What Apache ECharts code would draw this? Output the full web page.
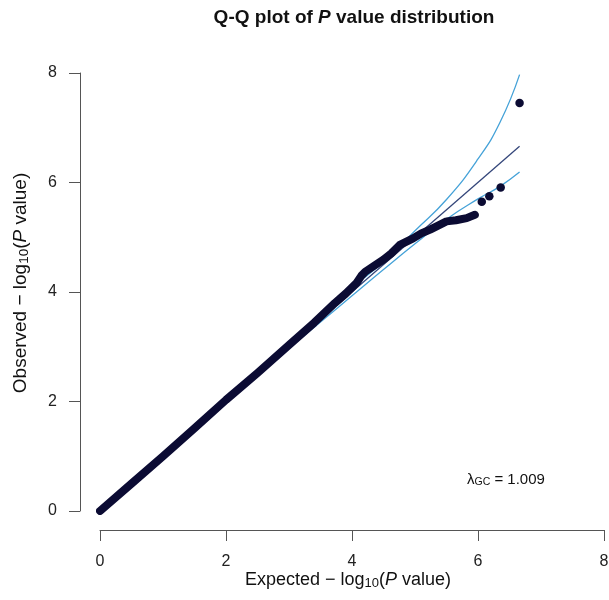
<!DOCTYPE html>
<html>
<head>
<meta charset="UTF-8">
<title>Q-Q plot</title>
<script src="https://cdn.jsdelivr.net/npm/echarts@6/dist/echarts.min.js"></script>
<style>
  body { margin: 0; background: #fff; }
  #chartmain { width: 609px; height: 600px; }
</style>
</head>
<body>
<div id="chartmain"></div>
<script>
// expected / observed -log10(P), main body of the Q-Q points
var expected = [0, 0.5, 1.0, 1.5, 2.0, 2.5, 3.0, 3.4, 3.73, 3.9, 4.07, 4.15, 4.21, 4.34, 4.5, 4.62, 4.76, 4.97, 5.1, 5.24, 5.5, 5.65, 5.82, 5.95];
var observed = [0, 0.5, 1.0, 1.51, 2.03, 2.52, 3.03, 3.44, 3.8, 3.97, 4.16, 4.3, 4.37, 4.47, 4.59, 4.7, 4.86, 4.98, 5.07, 5.14, 5.29, 5.31, 5.35, 5.41];
// the few separate points in the tail
var tailExpected = [6.06, 6.18, 6.36, 6.66];
var tailObserved = [5.65, 5.75, 5.91, 7.45];
// 90% confidence band
var bandX = [0, 1, 2, 3, 3.5, 4, 4.5, 5, 5.5, 6, 6.35, 6.66];
var bandUpper = [0, 1.0, 2.02, 3.04, 3.56, 4.08, 4.55, 5.12, 5.69, 6.43, 7.1, 7.97];
var bandLower = [0, 0.99, 1.98, 2.97, 3.45, 3.93, 4.41, 4.88, 5.33, 5.7, 5.93, 6.19];
// diagonal y = x
var diagX = [0, 6.66];
var axisTicks = [0, 2, 4, 6, 8];
var lambdaGC = '1.009';

function pairs(xs, ys) {
    var out = [];
    for (var i = 0; i < xs.length; i++) out.push([xs[i], ys[i]]);
    return out;
}

var FONT = 'Liberation Sans, Arial, Helvetica, sans-serif';
var dotColor = '#0b0b33';
var bandColor = '#45a2d8';

var mychart = echarts.init(document.getElementById('chartmain'));

var axisCommon = {
    type: 'value',
    min: axisTicks[0],
    max: axisTicks[axisTicks.length - 1],
    interval: axisTicks[1] - axisTicks[0],
    splitLine: { show: false },
    axisLine: { show: true, onZero: false, lineStyle: { color: '#555', width: 1 } },
    axisTick: { show: true, inside: false, length: 11, lineStyle: { color: '#555', width: 1 } }
};

var myoption = {
    animation: false,
    backgroundColor: '#fff',
    grid: { left: 100, right: 5, top: 73, bottom: 89, outerBoundsMode: 'none' },
    xAxis: Object.assign({}, axisCommon, {
        offset: 19,
        axisLabel: { margin: 24, color: '#222', fontSize: 16, fontFamily: FONT }
    }),
    yAxis: Object.assign({}, axisCommon, {
        offset: 20,
        axisLabel: { margin: 23, color: '#222', fontSize: 16, fontFamily: FONT }
    }),
    series: [
        {
            type: 'line', data: pairs(bandX, bandUpper), smooth: true, symbol: 'none',
            lineStyle: { color: bandColor, width: 1.3 }, z: 2
        },
        {
            type: 'line', data: pairs(bandX, bandLower), smooth: true, symbol: 'none',
            lineStyle: { color: bandColor, width: 1.3 }, z: 2
        },
        {
            type: 'line', data: pairs(diagX, diagX), symbol: 'none',
            lineStyle: { color: '#34467a', width: 1.3 }, z: 3
        },
        {
            type: 'line', data: pairs(expected, observed), symbol: 'none',
            lineStyle: { color: dotColor, width: 8, cap: 'round', join: 'round' }, z: 4
        },
        {
            type: 'scatter', data: pairs(tailExpected, tailObserved),
            symbol: 'circle', symbolSize: 8.5,
            itemStyle: { color: dotColor, opacity: 1 }, z: 5
        }
    ],
    graphic: [
        {
            type: 'text', x: 354, y: 18,
            style: {
                text: '{b|Q-Q plot of }{bi|P}{b| value distribution}',
                align: 'center', verticalAlign: 'middle',
                rich: {
                    b: { fontSize: 19, fontWeight: 'bold', fontFamily: FONT, fill: '#111' },
                    bi: { fontSize: 19, fontWeight: 'bold', fontStyle: 'italic', fontFamily: FONT, fill: '#111' }
                }
            }
        },
        {
            type: 'text', x: 348, y: 580,
            style: {
                text: '{m|Expected \u2212 log}{s|10}{m|(}{i|P}{m| value)}',
                align: 'center', verticalAlign: 'middle',
                rich: {
                    m: { fontSize: 18, fontFamily: FONT, fill: '#111' },
                    i: { fontSize: 18, fontStyle: 'italic', fontFamily: FONT, fill: '#111' },
                    s: { fontSize: 13, fontFamily: FONT, fill: '#111', padding: [7, 0, 0, 0] }
                }
            }
        },
        {
            type: 'text', x: 21, y: 283, rotation: Math.PI / 2,
            style: {
                text: '{m|Observed \u2212 log}{s|10}{m|(}{i|P}{m| value)}',
                align: 'center', verticalAlign: 'middle',
                rich: {
                    m: { fontSize: 19, fontFamily: FONT, fill: '#111' },
                    i: { fontSize: 19, fontStyle: 'italic', fontFamily: FONT, fill: '#111' },
                    s: { fontSize: 13.5, fontFamily: FONT, fill: '#111', padding: [7, 0, 0, 0] }
                }
            }
        },
        {
            type: 'text', x: 467, y: 480,
            style: {
                text: '{m|\u03bb}{s|GC}{m| = ' + lambdaGC + '}',
                align: 'left', verticalAlign: 'middle',
                rich: {
                    m: { fontSize: 15, fontFamily: FONT, fill: '#111' },
                    s: { fontSize: 10.5, fontFamily: FONT, fill: '#111', padding: [5, 0, 0, 0] }
                }
            }
        }
    ]
};

mychart.setOption(myoption);
</script>
</body>
</html>
